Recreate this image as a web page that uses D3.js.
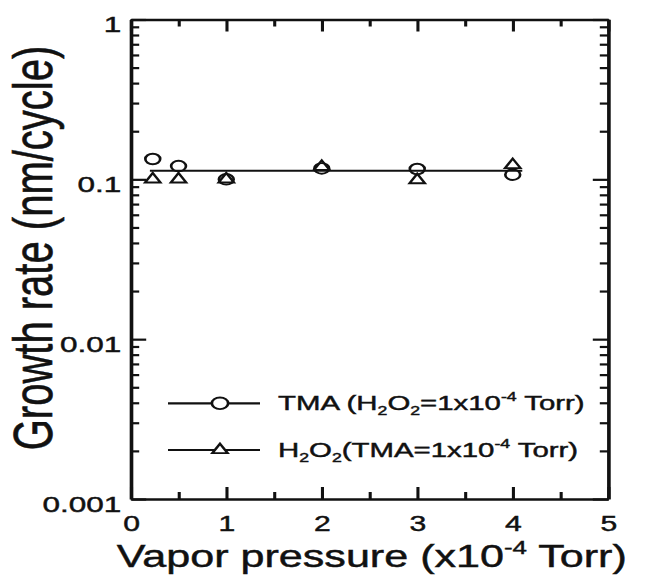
<!DOCTYPE html>
<html>
<head>
<meta charset="utf-8">
<script src="https://cdn.jsdelivr.net/npm/d3@7"></script>
<style>
  body { margin: 0; background: #fff; }
  text { font-family: Arial, "Liberation Sans", Helvetica, sans-serif; fill: #111; stroke: #111; stroke-width: 0.45px; }
</style>
</head>
<body>
<script>
// values
var pressure = [0.23, 0.5, 1, 2, 3, 4];          // x10^-4 Torr
var tmaRate = [0.134, 0.121, 0.1, 0.117, 0.116, 0.107];
var h2o2Rate = [0.1, 0.1, 0.1, 0.12, 0.099, 0.123];
var fitX = [0.2, 4.1];
var fitY = [0.113, 0.113];
var xTicks = [0, 1, 2, 3, 4, 5];
var xMinorTicks = [0.5, 1.5, 2.5, 3.5, 4.5];
var yTicks = [1, 0.1, 0.01, 0.001];
var yTickLabels = ["1", "0.1", "0.01", "0.001"];

// SVG area
var svgWidth = 645;
var svgHeight = 579;
// the source figure is stretched sideways, so draw in a narrower space and scale x
var stretch = 1.4;

var chartMargin = { top: 19.5, left: 130.8 / stretch };
var chartWidth = (608.2 - 130.8) / stretch;
var chartHeight = 499 - 19.5;

var svg = d3.select("body")
  .append("svg")
  .attr("width", svgWidth)
  .attr("height", svgHeight);

svg.append("rect")
  .attr("width", svgWidth)
  .attr("height", svgHeight)
  .attr("fill", "#fff");

var root = svg.append("g")
  .attr("transform", `scale(${stretch}, 1)`);

var chartGroup = root.append("g")
  .attr("transform", `translate(${chartMargin.left}, ${chartMargin.top})`);

// scales
var xScale = d3.scaleLinear()
  .domain([0, 5])
  .range([0, chartWidth]);

var yScale = d3.scaleLog()
  .domain([0.001, 1])
  .range([chartHeight, 0]);

// minor log ticks 2..9 per decade
var yMinorTicks = [];
[0.001, 0.01, 0.1].forEach(function (d) {
  for (var k = 2; k <= 9; k++) yMinorTicks.push(d * k);
});

function styleAxis(g, width) {
  g.select(".domain").attr("stroke", "#111").attr("stroke-width", width);
  g.selectAll(".tick line").attr("stroke", "#111").attr("stroke-width", 2.2);
}

// bottom axis with labels
var bottomAxis = chartGroup.append("g")
  .attr("transform", `translate(0, ${chartHeight})`)
  .call(d3.axisBottom(xScale).tickValues(xTicks).tickSize(-12).tickSizeOuter(0).tickPadding(17)
    .tickFormat(d3.format("d")));
styleAxis(bottomAxis, 2.6);
bottomAxis.selectAll("text")
  .attr("font-size", 21.5)
  .attr("fill", "#111");

chartGroup.append("g")
  .attr("transform", `translate(0, ${chartHeight})`)
  .call(d3.axisBottom(xScale).tickValues(xMinorTicks).tickSize(-7).tickSizeOuter(0).tickFormat(""))
  .call(styleAxis, 0);

// top axis, ticks only
var topAxis = chartGroup.append("g")
  .call(d3.axisTop(xScale).tickValues(xTicks).tickSize(-12).tickSizeOuter(0).tickFormat(""));
styleAxis(topAxis, 2.6);
chartGroup.append("g")
  .call(d3.axisTop(xScale).tickValues(xMinorTicks).tickSize(-7).tickSizeOuter(0).tickFormat(""))
  .call(styleAxis, 0);

// left axis with labels
var leftAxis = chartGroup.append("g")
  .call(d3.axisLeft(yScale).tickValues(yTicks).tickSize(-11).tickSizeOuter(0).tickPadding(6.8)
    .tickFormat(function (d, i) { return yTickLabels[i]; }));
styleAxis(leftAxis, 2.6);
leftAxis.selectAll("text")
  .attr("font-size", 22.5)
  .attr("dy", "0.55em")
  .attr("fill", "#111");

chartGroup.append("g")
  .call(d3.axisLeft(yScale).tickValues(yMinorTicks).tickSize(-6).tickSizeOuter(0).tickFormat(""))
  .call(styleAxis, 0);

// right axis, ticks only
var rightAxis = chartGroup.append("g")
  .attr("transform", `translate(${chartWidth}, 0)`)
  .call(d3.axisRight(yScale).tickValues(yTicks).tickSize(-11).tickSizeOuter(0).tickFormat(""));
styleAxis(rightAxis, 2.6);
chartGroup.append("g")
  .attr("transform", `translate(${chartWidth}, 0)`)
  .call(d3.axisRight(yScale).tickValues(yMinorTicks).tickSize(-6).tickSizeOuter(0).tickFormat(""))
  .call(styleAxis, 0);

// fit line
var fitData = fitX.map(function (x, i) { return { x: x, y: fitY[i] }; });
chartGroup.append("path")
  .datum(fitData)
  .attr("fill", "none")
  .attr("stroke", "#111")
  .attr("stroke-width", 2)
  .attr("d", d3.line().x(d => xScale(d.x)).y(d => yScale(d.y)));

var triangle = d3.symbol().type(d3.symbolTriangle).size(52);

// TMA points (circles)
chartGroup.selectAll(".tma")
  .data(pressure)
  .enter()
  .append("circle")
  .attr("class", "tma")
  .attr("cx", d => xScale(d))
  .attr("cy", (d, i) => yScale(tmaRate[i]))
  .attr("r", 5.3)
  .attr("fill", "none")
  .attr("stroke", "#111")
  .attr("stroke-width", 1.9);

// H2O2 points (triangles)
chartGroup.selectAll(".h2o2")
  .data(pressure)
  .enter()
  .append("path")
  .attr("class", "h2o2")
  .attr("d", triangle)
  .attr("transform", (d, i) => `translate(${xScale(d)}, ${yScale(h2o2Rate[i])})`)
  .attr("fill", "none")
  .attr("stroke", "#111")
  .attr("stroke-width", 1.9);

// text with sub/superscripts: parts are [string, "n" | "sub" | "sup"]
function richText(sel, parts, size) {
  var shift = { n: 0, sub: size * 0.22, sup: -size * 0.42 };
  var cur = 0;
  parts.forEach(function (p) {
    var target = shift[p[1]];
    sel.append("tspan")
      .attr("dy", target - cur)
      .attr("font-size", p[1] === "n" ? size : size * 0.6)
      .text(p[0]);
    cur = target;
  });
}

// legend
var legendRows = [
  { y: 403.3, kind: "circle", parts: [["TMA (H", "n"], ["2", "sub"], ["O", "n"], ["2", "sub"], ["=1x10", "n"], ["-4", "sup"], [" Torr)", "n"]] },
  { y: 450, kind: "triangle", parts: [["H", "n"], ["2", "sub"], ["O", "n"], ["2", "sub"], ["(TMA=1x10", "n"], ["-4", "sup"], [" Torr)", "n"]] }
];

var legend = root.append("g");
legendRows.forEach(function (row) {
  legend.append("line")
    .attr("x1", 168 / stretch).attr("x2", 260 / stretch)
    .attr("y1", row.y).attr("y2", row.y)
    .attr("stroke", "#111").attr("stroke-width", 2.2);
  if (row.kind === "circle") {
    legend.append("circle")
      .attr("cx", 220 / stretch).attr("cy", row.y).attr("r", 5.8)
      .attr("fill", "#fff").attr("stroke", "#111").attr("stroke-width", 1.9);
  } else {
    legend.append("path")
      .attr("d", triangle)
      .attr("transform", `translate(${220 / stretch}, ${row.y})`)
      .attr("fill", "#fff").attr("stroke", "#111").attr("stroke-width", 1.9);
  }
  var t = legend.append("text")
    .attr("x", 278 / stretch)
    .attr("y", row.y + 7);
  richText(t, row.parts, 21);
});

// axis titles
var xTitle = root.append("text")
  .attr("x", 116.7 / stretch)
  .attr("y", 567);
richText(xTitle, [["Vapor pressure (x10", "n"], ["-4", "sup"], [" Torr)", "n"]], 30.8);

root.append("text")
  .attr("transform", `translate(${52 / stretch}, 248) rotate(-90)`)
  .attr("text-anchor", "middle")
  .attr("font-size", 40)
  .text("Growth rate (nm/cycle)");
</script>
</body>
</html>
